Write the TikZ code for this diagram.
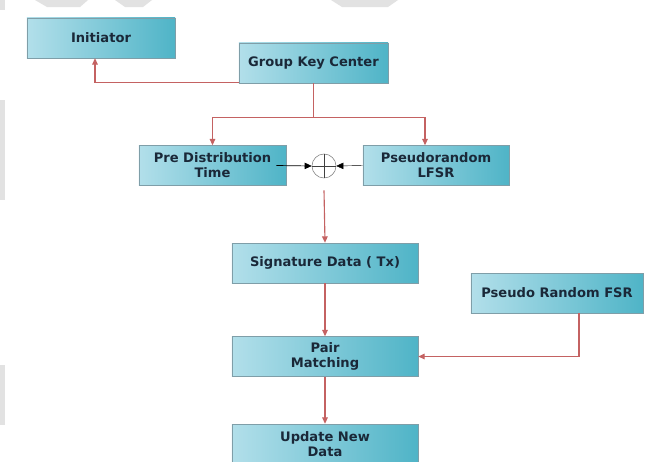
\documentclass[tikz,border=0pt]{standalone}
\usepackage{fontspec}
\setmainfont{DejaVu Sans}
\usepackage{tikz}
\usepackage{xcolor}
\usetikzlibrary{calc,arrows.meta}

\definecolor{boxlight}{HTML}{B2DFEA}
\definecolor{boxdark}{HTML}{4FB4C7}
\definecolor{boxedge}{HTML}{7F9EA8}
\definecolor{boxtext}{HTML}{1A2838}
\definecolor{linkred}{HTML}{C46262}
\definecolor{wmgray}{HTML}{E2E2E2}

\begin{document}
\begin{tikzpicture}[x=0.025cm,y=-0.025cm]
        \tikzstyle{blk}=[draw=boxedge, left color=boxlight, right color=boxdark, minimum height=1cm, inner sep=0pt, align=center, text=boxtext, font=\bfseries\fontsize{9.3}{10.5}\selectfont]
        \tikzstyle{link}=[draw=linkred, line width=0.8pt, -{Triangle[length=4.5pt,width=4pt]}]
        \tikzstyle{xorlink}=[draw=black, line width=0.5pt, -{Triangle[length=5pt,width=4.5pt]}]
            \useasboundingbox (0,0) rectangle (649,461);
            \fill[white] (0,0) rectangle (649,461);

            % faint marks of the page behind
            \fill[wmgray] (35,0) -- (88,0) -- (80,7) -- (47,7) -- cycle;
            \fill[wmgray] (115,0) -- (152,0) -- (143,7) -- (125,7) -- cycle;
            \fill[wmgray] (331,0) -- (398,0) -- (388,7) -- (342,7) -- cycle;
            \fill[wmgray] (0,0) rectangle (5,10);
            \fill[wmgray] (0,100) rectangle (5,200);
            \fill[wmgray] (0,365) rectangle (5,425);

            \node[blk, minimum width=3.7cm] (Init) at (101,38) {Initiator};
            \node[blk, minimum width=3.725cm] (GKC) at (313.5,63) {Group Key Center};

            \node[blk, minimum width=3.675cm] (PDT) at (212.5,165.5) {Pre Distribution\\Time};
            \node[draw=gray, circle, minimum size=0.6cm, inner sep=0pt] (XOR) at (324,166) {};
            \node[blk, minimum width=3.65cm] (LFSR) at (436,165.5) {Pseudorandom\\LFSR};

            \node[blk, minimum width=4.65cm] (Sig) at (325,263) {Signature Data ( Tx)};
            \node[blk, minimum width=4.3cm] (FSR) at (557,293) {Pseudo Random FSR};
            \node[blk, minimum width=4.65cm] (PM) at (325,356.5) {Pair\\Matching};
            \node[blk, minimum width=4.65cm] (UND) at (325,444) {Update New\\Data};

            \draw[darkgray, line width=0.6pt] (XOR.north) -- (XOR.south);
            \draw[darkgray, line width=0.6pt] (XOR.west) -- (XOR.east);

            \coordinate (T1) at ($(GKC.south)+(0,34)$);

            \draw[link] ($(GKC.south west)+(0,-1)$) -| ($(Init.south)+(-6,0)$);
            \draw[draw=linkred, line width=0.8pt] (GKC.south) -- (T1);
            \draw[link] (T1) -| (PDT.north);
            \draw[link] (T1) -| ($(LFSR.north)+(-11,0)$);

            \draw[xorlink] ($(PDT.east)+(-10,0)$) -- (XOR.west);
            \draw[xorlink, line width=0.3pt] (LFSR.west) -- (XOR.east);

            \draw[link] ($(XOR.south)+(0,12)$) -- (Sig.north);
            \draw[link] (Sig.south) -- (PM.north);
            \draw[link] ($(FSR.south)+(22,0)$) |- (PM.east);
            \draw[link] (PM.south) -- (UND.north);

        \end{tikzpicture}
\end{document}
